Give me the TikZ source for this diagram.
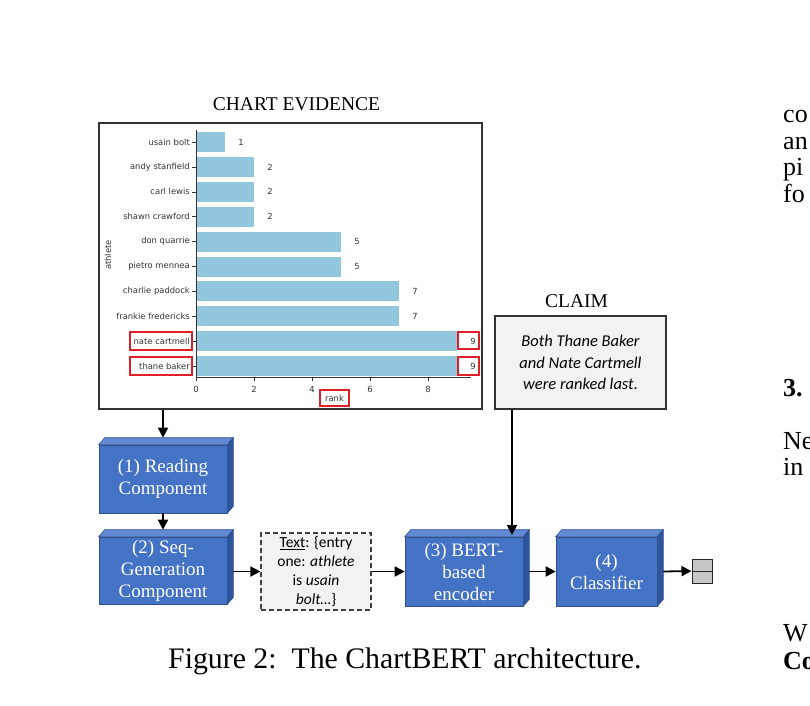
\documentclass[tikz,border=0pt]{standalone}
\usepackage{fontspec}
\setmainfont{Liberation Serif}
\newfontfamily\plotfont{DejaVu Sans}
\newfontfamily\calfont{Carlito}
\usetikzlibrary{arrows.meta}

\definecolor{barblue}{RGB}{147,199,222}
\definecolor{boxfront}{RGB}{68,114,196}
\definecolor{boxtop}{RGB}{98,138,212}
\definecolor{boxside}{RGB}{46,84,158}
\definecolor{boxedge}{RGB}{47,82,143}
\definecolor{lightfill}{RGB}{242,242,242}
\definecolor{markred}{RGB}{224,32,40}

\begin{document}
\begin{tikzpicture}[x=1pt, y=-1pt, >={Triangle[length=10pt,width=10pt]},
    plotlab/.style={font=\plotfont\fontsize{8.4}{10}\selectfont, text=black!80, inner sep=1pt},
    redbox/.style={draw=markred, line width=1.1pt},
    block/.style={fill=boxfront, draw=boxedge, line width=0.6pt, text=white, align=center,
        font=\fontsize{19}{22}\selectfont, inner sep=0pt},
    topface/.style={fill=boxtop, draw=boxedge, line width=0.6pt},
    sideface/.style={fill=boxside, draw=boxedge, line width=0.6pt},
    titletext/.style={font=\fontsize{19.5}{22}\selectfont},
    flow/.style={->, line width=1.8pt}]
    \useasboundingbox (0,0) rectangle (810,705);

    % Chart evidence
    \node[titletext] (charttitle) at (296.5,104) {CHART EVIDENCE};
    \node[draw=black!80, line width=1.3pt, minimum width=383, minimum height=286] (chart) at (290.5,266) {};
    \foreach \nm/\v [count=\i] in {usain bolt/1, andy stanfield/2, carl lewis/2, shawn crawford/2,
        don quarrie/5, pietro mennea/5, charlie paddock/7, frankie fredericks/7,
        nate cartmell/9, thane baker/9} {
        \fill[barblue] (196,{117.1+24.9*\i-10}) rectangle ++({29*\v},20);
        \draw[black!80, line width=0.6pt] (192,{117.1+24.9*\i}) -- (196,{117.1+24.9*\i});
        \node[plotlab, anchor=east] (name\i) at (191,{117.1+24.9*\i}) {\nm};
        \node[plotlab] (val\i) at ({196+29*\v+16},{117.1+24.9*\i}) {\v};
    }
    \draw[black!80, line width=0.8pt] (196,130) -- (196,377) -- (471,377);
    \foreach \t in {0,2,4,6,8} {
        \draw[black!80, line width=0.6pt] ({196+29*\t},377) -- ++(0,4);
        \node[plotlab] (tick\t) at ({196+29*\t},389) {\t};
    }
    \node[plotlab, rotate=90] (ylab) at (108,255) {athlete};
    \node[plotlab] (xlab) at (334.5,398.5) {rank};
    % highlighted cells
    \draw[redbox] (130,332) rectangle (192,350);
    \draw[redbox] (130,357) rectangle (192,375);
    \draw[redbox] (458,332) rectangle (479,349);
    \draw[redbox] (458,357) rectangle (479,375);
    \draw[redbox] (320,390) rectangle (349,406);

    % Claim
    \node[titletext] (claimtitle) at (576.5,301) {CLAIM};
    \node[draw=black!80, fill=lightfill, line width=1.3pt, minimum width=171, minimum height=93,
        align=center, font=\calfont\itshape\fontsize{16.5}{21.5}\selectfont] (claim) at (580.5,362.5)
        {Both Thane Baker\\and Nate Cartmell\\were ranked last.};

    % Components
    \node[block, minimum width=128, minimum height=68] (read) at (163,479) {(1) Reading\\Component};
    \node[block, minimum width=128, minimum height=67] (seq) at (163,570.5) {(2) Seq-\\Generation\\Component};
    \node[block, minimum width=118, minimum height=69] (bert) at (464,571.5) {(3) BERT-\\based\\encoder};
    \node[block, minimum width=101, minimum height=69] (cls) at (606.5,571.5) {(4)\\Classifier};
    \foreach \b in {read,seq,bert,cls} {
        \filldraw[topface] (\b.north west) -- ++(6,-7) -- ([shift={(6,-7)}]\b.north east) -- (\b.north east) -- cycle;
        \filldraw[sideface] (\b.north east) -- ++(6,-7) -- ([shift={(6,-7)}]\b.south east) -- (\b.south east) -- cycle;
    }
    \node[draw=black!75, fill=lightfill, dashed, dash pattern=on 5pt off 3pt, line width=1.2pt,
        minimum width=110, minimum height=77, align=center, inner sep=0pt,
        font=\calfont\fontsize{15.5}{19}\selectfont] (txt) at (316,571.5)
        {\underline{Text}: \{entry\\one: \textit{athlete}\\is \textit{usain}\\\textit{bolt\ldots}\}};
    \node[draw=black!85, fill=black!22, line width=1pt, minimum width=20, minimum height=24, inner sep=0pt] (out) at (702,571) {};
    \draw[black!85, line width=1pt] (out.west) -- (out.east);

    % Connectors
    \coordinate (bertin) at (512,535);
    \draw[flow] (read.north |- chart.south) -- ([shift={(0,-7)}]read.north);
    \draw[flow] (read.south) -- ([shift={(0,-7)}]seq.north);
    \draw[flow] ([xshift=6pt]seq.east |- txt.west) -- (txt.west);
    \draw[flow] (txt.east) -- (bert.west);
    \draw[flow] (claim.south -| bertin) -- (bertin);
    \draw[flow] ([xshift=6pt]bert.east) -- (cls.west);
    \draw[flow] ([xshift=6pt]cls.east) -- (out.west);

    % Caption
    \node[anchor=base west, inner sep=0pt, font=\fontsize{29.8}{34}\selectfont] (caption) at (168,668)
        {Figure 2:\ \ The ChartBERT architecture.};

    % cut-off column on the right
    \begin{scope}
        \clip (0,0) rectangle (810,705);
        \foreach \w/\yy [count=\k] in {co/122, an/149, pi/175, fo/202, Ne/449, in/475, W/641} {
            \node[anchor=base west, inner sep=0pt, font=\fontsize{26}{30}\selectfont] (col\k) at (783,\yy) {\w};
        }
        \node[anchor=base west, inner sep=0pt, font=\bfseries\fontsize{26}{30}\selectfont] (sec) at (783,396) {3.};
        \node[anchor=base west, inner sep=0pt, font=\bfseries\fontsize{26}{30}\selectfont] (colbold) at (783,669) {Co};
    \end{scope}
\end{tikzpicture}
\end{document}
